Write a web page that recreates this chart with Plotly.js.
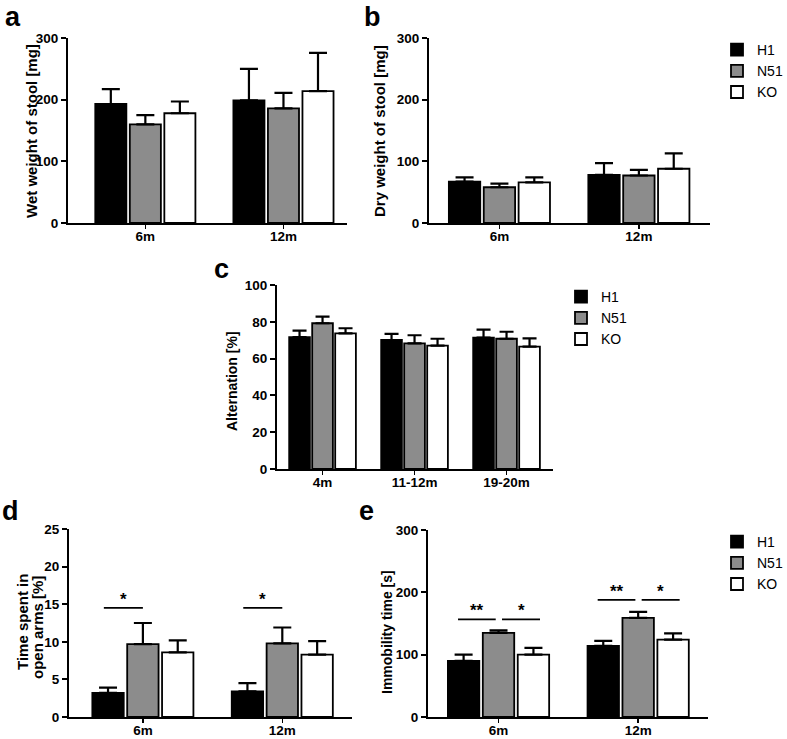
<!DOCTYPE html>
<html>
<head>
<meta charset="utf-8">
<script src="https://cdn.plot.ly/plotly-3.0.1.min.js"></script>
<style>html,body{margin:0;padding:0;background:#fff;}#chart{width:787px;height:739px;}</style>
</head>
<body>
<div id="chart"></div>
<script>
// ---------- data ----------
const groups = ['H1', 'N51', 'KO'];
const ageCatsAB = ['6m', '12m'];
const ageCatsC = ['4m', '11-12m', '19-20m'];
const ageCatsDE = ['6m', '12m'];

// a: wet weight of stool [mg]
const wetH1 = [193, 199];   const wetH1Err = [24, 51];
const wetN51 = [160, 186];  const wetN51Err = [15, 25];
const wetKO = [178, 214];   const wetKOErr = [19, 62];

// b: dry weight of stool [mg]
const dryH1 = [67, 78];     const dryH1Err = [7, 19];
const dryN51 = [58, 77];    const dryN51Err = [6, 9];
const dryKO = [66, 88];     const dryKOErr = [8, 25];

// c: alternation [%]
const altH1 = [71.7, 70.1, 71.4];  const altH1Err = [3.5, 3.3, 4.3];
const altN51 = [79.2, 68.3, 70.8]; const altN51Err = [3.6, 4.4, 3.8];
const altKO = [73.7, 67.0, 66.5];  const altKOErr = [2.8, 3.8, 4.5];

// d: time spent in open arms [%]
const openH1 = [3.2, 3.4];   const openH1Err = [0.7, 1.1];
const openN51 = [9.7, 9.8];  const openN51Err = [2.8, 2.1];
const openKO = [8.6, 8.3];   const openKOErr = [1.6, 1.8];

// e: immobility time [s]
const immH1 = [90, 114];     const immH1Err = [10, 8];
const immN51 = [135, 159];   const immN51Err = [4, 9.5];
const immKO = [100, 124];    const immKOErr = [11, 10];

// significance markers
const sigD_levels = [14.5, 14.5];     const sigD_labels = ['*', '*'];
const sigE_levels = [156.5, 188];     const sigE_labelsH1N51 = ['**', '**']; const sigE_labelsN51KO = ['*', '*'];

// axis titles
const yTitles = ['Wet weight of stool [mg]', 'Dry weight of stool [mg]', 'Alternation [%]',
                 'Time spent in', 'open arms [%]', 'Immobility time [s]'];

// ---------- styling ----------
const W = 787, H = 739;
const colors = {H1: '#000000', N51: '#8c8c8c', KO: '#ffffff'};
const FONT = 'Liberation Sans, Arial, sans-serif';
const px2x = p => p / W;
const px2y = p => 1 - p / H;

function bar(name, x, y, err, xa, ya, legend, showlegend, cap) {
  return {
    type: 'bar', name: name, x: x, y: y,
    xaxis: xa, yaxis: ya, legend: legend, showlegend: showlegend,
    marker: {color: colors[name], line: {color: '#000', width: 1.8}},
    error_y: {type: 'data', symmetric: false, array: err, arrayminus: err.map(() => 0),
              color: '#000', thickness: 2.2, width: cap},
    hoverinfo: 'skip'
  };
}

const traces = [
  bar('H1', ageCatsAB, wetH1, wetH1Err, 'x', 'y', 'legend', false, 9),
  bar('N51', ageCatsAB, wetN51, wetN51Err, 'x', 'y', 'legend', false, 9),
  bar('KO', ageCatsAB, wetKO, wetKOErr, 'x', 'y', 'legend', false, 9),
  bar('H1', ageCatsAB, dryH1, dryH1Err, 'x2', 'y2', 'legend', true, 9),
  bar('N51', ageCatsAB, dryN51, dryN51Err, 'x2', 'y2', 'legend', true, 9),
  bar('KO', ageCatsAB, dryKO, dryKOErr, 'x2', 'y2', 'legend', true, 9),
  bar('H1', ageCatsC, altH1, altH1Err, 'x3', 'y3', 'legend2', true, 7),
  bar('N51', ageCatsC, altN51, altN51Err, 'x3', 'y3', 'legend2', true, 7),
  bar('KO', ageCatsC, altKO, altKOErr, 'x3', 'y3', 'legend2', true, 7),
  bar('H1', ageCatsDE, openH1, openH1Err, 'x4', 'y4', 'legend3', false, 9),
  bar('N51', ageCatsDE, openN51, openN51Err, 'x4', 'y4', 'legend3', false, 9),
  bar('KO', ageCatsDE, openKO, openKOErr, 'x4', 'y4', 'legend3', false, 9),
  bar('H1', ageCatsDE, immH1, immH1Err, 'x5', 'y5', 'legend3', true, 9),
  bar('N51', ageCatsDE, immN51, immN51Err, 'x5', 'y5', 'legend3', true, 9),
  bar('KO', ageCatsDE, immKO, immKOErr, 'x5', 'y5', 'legend3', true, 9)
];

const tickFont = {family: FONT, size: 13.5, color: '#000', weight: 'bold'};
const titleSizes = [15, 15, 14, 15, 15, 14];

function xaxis(domPx, range, anchor) {
  return {
    domain: [px2x(domPx[0]), px2x(domPx[1])], anchor: anchor, type: 'category',
    range: range, showline: true, linecolor: '#000', linewidth: 2,
    ticks: 'outside', ticklen: 4, tickwidth: 1.5, tickcolor: '#000', ticklabelstandoff: -4,
    tickfont: tickFont, showgrid: false, zeroline: false, fixedrange: true, automargin: false
  };
}
function yaxis(domPx, range, dtick, anchor) {
  return {
    domain: [px2y(domPx[1]), px2y(domPx[0])], anchor: anchor,
    range: range, dtick: dtick, tick0: 0, showline: true, linecolor: '#000', linewidth: 2,
    ticks: 'outside', ticklen: 5, tickwidth: 2, tickcolor: '#000',
    tickfont: tickFont, showgrid: false, zeroline: false, fixedrange: true,
    automargin: false
  };
}

const shapes = [];
const annotations = [];
function sigLine(xa, ya, x0, x1, level, label) {
  shapes.push({type: 'line', xref: xa, yref: ya, x0: x0, x1: x1, y0: level, y1: level,
               line: {color: '#000', width: 1.8}});
  annotations.push({xref: xa, yref: ya, x: (x0 + x1) / 2, y: level, text: label,
                    showarrow: false, yanchor: 'bottom', yshift: -3,
                    font: {family: FONT, size: 17, color: '#000', weight: 'bold'}});
}
sigD_levels.forEach((lv, i) => sigLine('x4', 'y4', i - 0.28, i + 0.0, lv, sigD_labels[i]));
sigE_levels.forEach((lv, i) => {
  sigLine('x5', 'y5', i - 0.29, i - 0.02, lv, sigE_labelsH1N51[i]);
  sigLine('x5', 'y5', i + 0.025, i + 0.297, lv, sigE_labelsN51KO[i]);
});

// y-axis titles (rotated)
const titlePos = [[31, 131], [379, 131], [232, 381], [22, 622], [37, 628], [387, 632]];
yTitles.forEach((t, i) => {
  annotations.push({xref: 'paper', yref: 'paper', x: px2x(titlePos[i][0]), y: px2y(titlePos[i][1]),
    text: t, textangle: -90, showarrow: false, xanchor: 'center', yanchor: 'middle',
    font: {family: FONT, size: titleSizes[i], color: '#000', weight: 'bold'}});
});

// panel letters: [text, x centre px, y px, anchor]
const panelLabels = [['a', 13, 1, 'top'], ['b', 372, 1, 'top'], ['c', 222, 269, 'middle'],
                     ['d', 10, 511, 'middle'], ['e', 366, 511, 'middle']];
panelLabels.forEach(([t, xp, yp, anc]) => {
  annotations.push({xref: 'paper', yref: 'paper', x: px2x(xp), y: px2y(yp), text: t,
    showarrow: false, xanchor: 'center', yanchor: anc, borderpad: 0,
    font: {family: FONT, size: 27, color: '#000', weight: 'bold'}});
});

const legendStyle = {font: {family: FONT, size: 14, color: '#000'}, bgcolor: 'rgba(0,0,0,0)',
                     xanchor: 'left', yanchor: 'top', traceorder: 'normal'};

const layout = {
  width: W, height: H, margin: {l: 0, r: 0, t: 0, b: 0, autoexpand: false},
  paper_bgcolor: '#fff', plot_bgcolor: '#fff',
  barmode: 'group', bargap: 0.25, bargroupgap: 0.1,
  showlegend: true,
  xaxis: xaxis([68, 347], [-0.56, 1.46], 'y'),
  yaxis: yaxis([38, 223], [0, 300], 100, 'x'),
  xaxis2: xaxis([429, 710], [-0.505, 1.51], 'y2'),
  yaxis2: yaxis([38, 223], [0, 300], 100, 'x2'),
  xaxis3: xaxis([277, 553], [-0.495, 2.505], 'y3'),
  yaxis3: yaxis([285, 469], [0, 100], 20, 'x3'),
  xaxis4: xaxis([69, 352], [-0.53, 1.5], 'y4'),
  yaxis4: yaxis([529, 717], [0, 25], 5, 'x4'),
  xaxis5: xaxis([428, 708], [-0.505, 1.5], 'y5'),
  yaxis5: yaxis([530, 717], [0, 300], 100, 'x5'),
  legend: Object.assign({x: px2x(717), y: px2y(34)}, legendStyle),
  legend2: Object.assign({x: px2x(561), y: px2y(281)}, legendStyle),
  legend3: Object.assign({x: px2x(717), y: px2y(526)}, legendStyle),
  shapes: shapes,
  annotations: annotations
};

Plotly.newPlot('chart', traces, layout, {staticPlot: true, displayModeBar: false});
</script>
</body>
</html>
